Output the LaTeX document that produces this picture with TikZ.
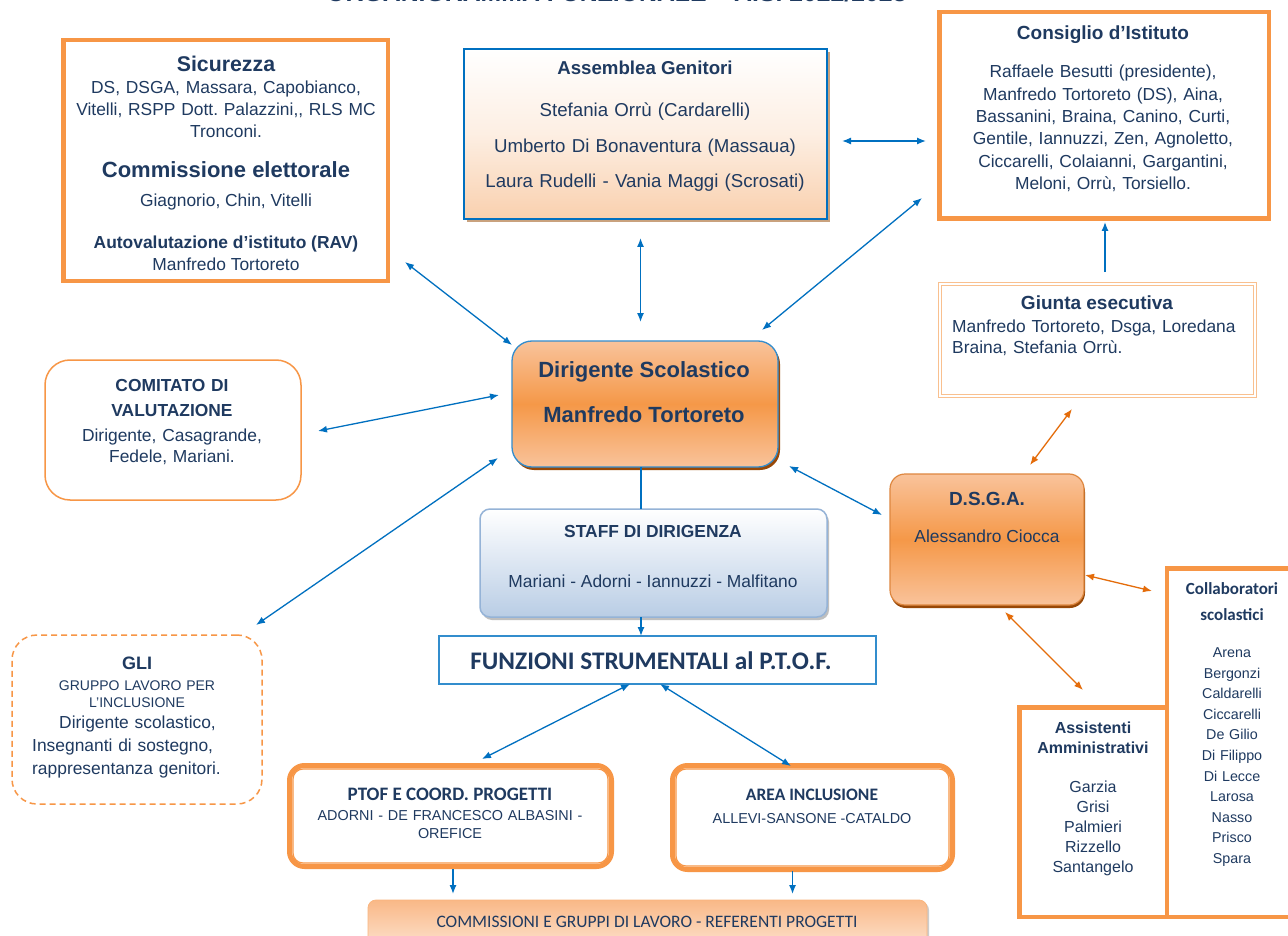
\documentclass[tikz,border=0pt]{standalone}
\usepackage{fontspec}
\setmainfont{Liberation Sans}
\newfontfamily\carl{Carlito}
\usetikzlibrary{arrows.meta,shadows}
\definecolor{navy}{HTML}{1F3A60}
\definecolor{org}{HTML}{F79646}
\definecolor{orgdark}{HTML}{E46C0A}
\definecolor{blu}{HTML}{0070C0}
\definecolor{peach}{HTML}{F9D0AE}
\definecolor{lightor}{HTML}{F9C08F}
\definecolor{brownsh}{HTML}{984807}
\definecolor{tansh}{HTML}{C9A27E}
\definecolor{dslight}{HTML}{F9C39B}
\definecolor{dsmid}{HTML}{F59848}
\definecolor{staffbot}{HTML}{B9CDE5}
\definecolor{staffbd}{HTML}{95B3D7}
\definecolor{comtop}{HTML}{F9B887}
\definecolor{combot}{HTML}{FDE6D4}
\newcommand\fsz[2]{\fontsize{#1}{#2}\selectfont}
\tikzset{
  txt/.style={text=navy, inner sep=0pt, anchor=base, align=center},
  obox/.style={draw=org, line width=4.5pt, fill=white, inner sep=0pt},
  barrow/.style={draw=blu, line width=1.3pt, {Latex[length=9pt,width=7pt]}-{Latex[length=9pt,width=7pt]}},
  barrowone/.style={draw=blu, line width=1.3pt, -{Latex[length=9pt,width=7pt]}},
  oarrow/.style={draw=orgdark, line width=1.3pt, {Latex[length=9pt,width=7pt]}-{Latex[length=9pt,width=7pt]}},
  dsgrad/.style={top color=dslight, bottom color=dslight, middle color=dsmid},
  ptofbox/.style={draw=org, line width=5pt, rounded corners=15pt, fill=white, inner sep=0pt},
}
\begin{document}
\frenchspacing
\begin{tikzpicture}[x=1pt,y=-1pt]
\useasboundingbox (0,0) rectangle (1288,936);
\fill[white] (0,0) rectangle (1288,936);

% title (cut by the page edge, as in the reference)
\node[txt, font={\bfseries\fsz{24.8}{28}}] (ttl) at (616.5,2) {ORGANIGRAMMA FUNZIONALE – A.S. 2022/2023};

% ---------- boxes ----------
\node[obox, minimum width=324.5, minimum height=240.5] (sic) at (225.5,160.5) {};
\node[draw=blu, line width=2pt, top color=white, bottom color=peach, middle color=peach!35,
      drop shadow={shadow xshift=3pt, shadow yshift=-3pt, fill=tansh, opacity=1},
      minimum width=363, minimum height=170, inner sep=0pt] (ass) at (645.5,134) {};
\node[obox, minimum width=329.5, minimum height=206.5] (cons) at (1104,115.5) {};
\node[draw=lightor, double=white, double distance=1.5pt, line width=1.2pt, fill=white,
      minimum width=315, minimum height=112, inner sep=0pt] (giu) at (1097.5,340) {};
\node[draw=blu!80, line width=1.3pt, rounded corners=20pt, dsgrad,
      drop shadow={shadow xshift=2pt, shadow yshift=-3pt, fill=brownsh, opacity=1},
      minimum width=266, minimum height=126, inner sep=0pt] (ds) at (645,404) {};
\node[draw=org, line width=1.5pt, rounded corners=25pt, fill=white,
      minimum width=256, minimum height=140, inner sep=0pt] (cv) at (173,430) {};
\node[draw=org!90!black, line width=1.2pt, rounded corners=15pt, dsgrad,
      drop shadow={shadow xshift=1pt, shadow yshift=-3pt, fill=brownsh, opacity=1},
      minimum width=194, minimum height=131, inner sep=0pt] (dsga) at (987,539.5) {};
\node[draw=staffbd, line width=1.5pt, rounded corners=10pt, top color=white, bottom color=staffbot,
      drop shadow={shadow xshift=2pt, shadow yshift=-3pt, fill=black!25, opacity=1},
      minimum width=347, minimum height=108, inner sep=0pt] (staff) at (653.5,563) {};
\node[draw=blu!80, line width=1.5pt, fill=white, minimum width=437, minimum height=48, inner sep=0pt] (fs) at (657.5,660) {};
\node[draw=org, line width=1.5pt, dash pattern=on 6pt off 4pt, rounded corners=25pt, fill=white,
      minimum width=250, minimum height=169, inner sep=0pt] (gli) at (137,719.5) {};
\node[ptofbox, minimum width=322, minimum height=101] (ptof) at (450.5,816) {};
\draw[org, line width=1.2pt, rounded corners=10pt] ([shift={(6,6)}]ptof.north west) rectangle ([shift={(-6,-6)}]ptof.south east);
\node[ptofbox, minimum width=280, minimum height=104] (area) at (812.5,817.5) {};
\draw[org, line width=1.2pt, rounded corners=10pt] ([shift={(6,6)}]area.north west) rectangle ([shift={(-6,-6)}]area.south east);
\node[draw=org!70, line width=0.8pt, rounded corners=8pt, top color=comtop, bottom color=combot,
      drop shadow={shadow xshift=2pt, shadow yshift=-2pt, fill=black!20, opacity=1},
      minimum width=559, minimum height=52, inner sep=0pt] (comm) at (647.5,926) {};
\node[obox, minimum width=133, minimum height=348.5] (coll) at (1233.5,742.5) {};
\node[obox, minimum width=147.5, minimum height=209.5] (assi) at (1093,812) {};

% ---------- texts ----------
\node[txt, font={\bfseries\fsz{21.3}{26}}] (sicT) at (226,72) {Sicurezza};
\node[txt, text width=320pt, font={\fsz{17.4}{21.7}}] (sicB) at (226,94) {DS, DSGA, Massara, Capobianco,\\Vitelli, RSPP Dott. Palazzini,\kern0pt, RLS MC\\Tronconi.};
\node[txt, font={\bfseries\fsz{22}{26}}] (celT) at (226,178) {Commissione elettorale};
\node[txt, font={\fsz{17.4}{21}}] (celB) at (226,207) {Giagnorio, Chin, Vitelli};
\node[txt, font={\bfseries\fsz{17.4}{21}}] (ravT) at (226,248) {Autovalutazione d’istituto (RAV)};
\node[txt, font={\fsz{17.4}{21}}] (ravB) at (226,270) {Manfredo Tortoreto};

\node[txt, font={\bfseries\fsz{18.67}{22}}] (assT) at (645,75) {Assemblea Genitori};
\node[txt, text width=355pt, font={\fsz{18.67}{35.5}}] (assB) at (645,117) {Stefania Orrù (Cardarelli)\\Umberto Di Bonaventura (Massaua)\\Laura Rudelli - Vania Maggi (Scrosati)};

\node[txt, font={\bfseries\fsz{19}{22}}] (consT) at (1103,40) {Consiglio d’Istituto};
\node[txt, text width=322pt, font={\fsz{17.4}{22.3}}] (consB) at (1103,78) {Raffaele Besutti (presidente),\\Manfredo Tortoreto (DS), Aina,\\Bassanini, Braina, Canino, Curti,\\Gentile, Iannuzzi, Zen, Agnoletto,\\Ciccarelli, Colaianni, Gargantini,\\Meloni, Orrù, Torsiello.};

\node[txt, font={\bfseries\fsz{19}{22}}] (giuT) at (1097,309) {Giunta esecutiva};
\node[txt, anchor=base west, align=left, text width=292pt, font={\fsz{17.4}{21}}] (giuB) at (952,332) {\makebox[290pt][s]{Manfredo Tortoreto, Dsga, Loredana}\\Braina, Stefania Orrù.};

\node[txt, font={\bfseries\fsz{22}{26}}] (dsT1) at (644,377) {Dirigente Scolastico};
\node[txt, font={\bfseries\fsz{22}{26}}] (dsT2) at (644,422) {Manfredo Tortoreto};

\node[txt, text width=250pt, font={\bfseries\fsz{17.4}{25}}] (cvT) at (172,391) {COMITATO DI\\VALUTAZIONE};
\node[txt, text width=250pt, font={\fsz{17.4}{21}}] (cvB) at (172,441) {Dirigente, Casagrande,\\Fedele, Mariani.};

\node[txt, font={\bfseries\fsz{19}{22}}] (dsgaT) at (987,505) {D.S.G.A.};
\node[txt, font={\fsz{17.4}{21}}] (dsgaB) at (987,542) {Alessandro Ciocca};

\node[txt, font={\bfseries\fsz{17.4}{21}}] (stT) at (653,537) {STAFF DI DIRIGENZA};
\node[txt, font={\fsz{17.4}{21}}] (stB) at (653,587) {Mariani - Adorni - Iannuzzi - Malfitano};

\node[txt, font={\carl\bfseries\fsz{25.3}{28}}] (fsT) at (651,669) {FUNZIONI STRUMENTALI al P.T.O.F.};

\node[txt, font={\bfseries\fsz{18}{22}}] (gliT) at (137,669) {GLI};
\node[txt, text width=240pt, font={\fsz{14}{17}}] (gliS) at (137,690) {GRUPPO LAVORO PER\\L{\char"0027}INCLUSIONE};
\node[txt, anchor=base west, align=left, text width=220pt, font={\fsz{17.4}{23}}] (gliB) at (32,728) {\hspace*{27pt}Dirigente scolastico,\\Insegnanti di sostegno,\\rappresentanza genitori.};

\node[txt, font={\carl\bfseries\fsz{19}{22}}] (ptofT) at (450,800.7) {PTOF E COORD. PROGETTI};
\node[txt, text width=310pt, font={\fsz{14.4}{17.3}}] (ptofB) at (450,820.7) {ADORNI - DE FRANCESCO ALBASINI -\\OREFICE};

\node[txt, font={\carl\bfseries\fsz{17.5}{22}}] (areaT) at (812,800.7) {AREA INCLUSIONE};
\node[txt, font={\fsz{14.4}{17.3}}] (areaB) at (812,823) {ALLEVI-SANSONE -CATALDO};

\node[txt, font={\carl\fsz{17.5}{21}}] (commT) at (647,927) {COMMISSIONI E GRUPPI DI LAVORO - REFERENTI PROGETTI};

\node[txt, text width=140pt, font={\bfseries\fsz{16}{20}}] (assiT) at (1093,733) {Assistenti\\Amministrativi};
\node[txt, text width=140pt, font={\fsz{16}{20}}] (assiB) at (1093,792.5) {Garzia\\Grisi\\Palmieri\\Rizzello\\Santangelo};

\node[txt, text width=125pt, font={\carl\bfseries\fsz{17}{26.5}}] (collT) at (1232,594) {Collaboratori\\scolastici};
\node[txt, text width=125pt, font={\fsz{14.3}{20.6}}] (collB) at (1232,657.4) {Arena\\Bergonzi\\Caldarelli\\Ciccarelli\\De Gilio\\Di Filippo\\Di Lecce\\Larosa\\Nasso\\Prisco\\Spara};

% ---------- connector end points ----------
\coordinate (sicA) at (405,262);   \coordinate (dsA) at (512,345);
\coordinate (assA) at (640.5,238); \coordinate (dsB) at (640.5,322);
\coordinate (consA) at (922,198);  \coordinate (dsC) at (762,330);
\coordinate (assR) at (842,141);   \coordinate (consL) at (926,141);
\coordinate (giuU) at (1105,272);  \coordinate (consD) at (1105,222);
\coordinate (cvA) at (318,431);    \coordinate (dsD) at (499,395);
\coordinate (gliA) at (256,625);   \coordinate (dsE) at (498,458);
\coordinate (dsF) at (789,466);    \coordinate (dsgaA) at (882,515);
\coordinate (dsG) at (641,467);    \coordinate (stU) at (641,509);
\coordinate (stD) at (641,617);    \coordinate (fsU) at (641,636);
\coordinate (fsA) at (630,684);    \coordinate (ptofA) at (482,759);
\coordinate (fsB) at (660,684);    \coordinate (areaA) at (791,766);
\coordinate (ptofD) at (453,869);  \coordinate (commA) at (453,894);
\coordinate (areaD) at (792.5,871);\coordinate (commB) at (792.5,894);
\coordinate (giuD) at (1072,409);  \coordinate (dsgaU) at (1030,465);
\coordinate (dsgaR) at (1085,575); \coordinate (collA) at (1152,591);
\coordinate (dsgaD) at (1005,612); \coordinate (assiA) at (1083,690);

% ---------- connectors ----------
\draw[barrow] (sicA) -- (dsA);
\draw[barrow] (assA) -- (dsB);
\draw[barrow] (consA) -- (dsC);
\draw[barrow] (assR) -- (consL);
\draw[barrowone] (giuU) -- (consD);
\draw[barrow] (cvA) -- (dsD);
\draw[barrow] (gliA) -- (dsE);
\draw[barrow] (dsF) -- (dsgaA);
\draw[draw=blu, line width=1.3pt] (dsG) -- (stU);
\draw[barrowone] (stD) -- (fsU);
\draw[barrow] (fsA) -- (ptofA);
\draw[barrow] (fsB) -- (areaA);
\draw[barrowone] (ptofD) -- (commA);
\draw[barrowone] (areaD) -- (commB);
\draw[oarrow] (giuD) -- (dsgaU);
\draw[oarrow] (dsgaR) -- (collA);
\draw[oarrow] (dsgaD) -- (assiA);
\end{tikzpicture}
\end{document}
